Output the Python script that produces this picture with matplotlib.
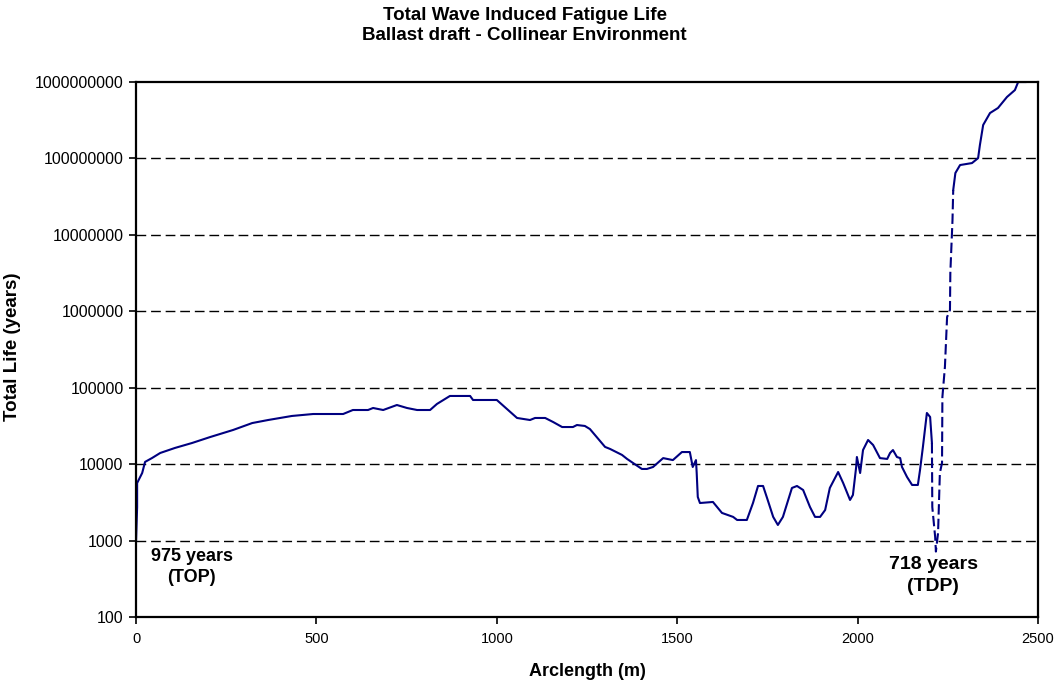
## Total wave induced fatigue life along the riser, ballast draft, collinear environment
import matplotlib.pyplot as plt
import numpy as np

plt.rcParams['font.family'] = ['Liberation Sans', 'DejaVu Sans']

## Arclength (m) and total life (years), solid part up to the touchdown zone
arc_a = [0, 3, 3, 17, 25, 44, 67, 108, 155, 205, 269, 322, 366, 432, 491, 574, 601, 643, 657,
         685, 723, 751, 779, 815, 834, 870, 926, 934, 1000, 1056, 1092, 1106, 1134, 1156, 1181,
         1211, 1222, 1244, 1258, 1300, 1314, 1347, 1361, 1402, 1416, 1433, 1461, 1488, 1513,
         1535, 1543, 1552, 1554, 1557, 1563, 1599, 1624, 1655, 1666, 1693, 1710, 1724, 1738,
         1749, 1766, 1779, 1793, 1818, 1832, 1849, 1868, 1882, 1896, 1910, 1923, 1946, 1960,
         1979, 1987, 1996, 1998, 2007, 2015, 2029, 2043, 2062, 2082, 2090, 2098, 2109, 2118,
         2123, 2137, 2151, 2167, 2173, 2181, 2192, 2201, 2206]
life_a = [975, 2750, 5660, 7660, 10700, 12000, 14000, 16300, 18900, 22600, 28000, 34500, 37800,
          42700, 45300, 45300, 51100, 51100, 54300, 51100, 59400, 54300, 51100, 51100, 61300,
          78000, 78000, 69100, 69100, 40200, 37800, 40200, 40200, 35600, 30600, 30600, 32500,
          31600, 28800, 16800, 15800, 13200, 11700, 8650, 8650, 9180, 12000, 11300, 14400,
          14400, 9180, 11300, 7660, 3720, 3100, 3200, 2300, 2040, 1860, 1860, 3100, 5180, 5180,
          3610, 2040, 1600, 2040, 4880, 5180, 4590, 2750, 2040, 2040, 2510, 4880, 7890, 5660,
          3400, 3950, 9180, 12400, 7660, 15300, 20700, 17800, 12000, 11700, 14000, 15300, 12400,
          12000, 9180, 6790, 5340, 5340, 8380, 16800, 46700, 41400, 18900]

## Steep drop to the TDP minimum and the climb out of it
arc_b = [2206, 2207, 2215, 2217, 2223, 2228, 2234, 2235, 2242, 2248, 2256, 2257, 2263, 2265]
life_b = [18900, 2750, 1110, 718, 1260, 7660, 10400, 75600, 187000, 841000, 1.04e6, 3.17e6,
          1.56e7, 3.86e7]

## Sagbend and beyond
arc_c = [2265, 2271, 2284, 2317, 2334, 2339, 2348, 2367, 2389, 2414, 2436, 2445, 2465]
life_c = [3.86e7, 6.45e7, 8.2e7, 8.7e7, 1.01e8, 1.5e8, 2.74e8, 3.93e8, 4.57e8, 6.37e8, 7.85e8,
          1e9, 1e9]

decades = [10.0**k for k in range(2, 10)]

fig = plt.figure(figsize=(10.62, 6.87), dpi=100)
ax = fig.add_axes([0.1281, 0.1019, 0.8493, 0.7787])

navy = '#000080'
ax.plot(arc_a, life_a, color=navy, lw=1.5)
ax.plot(arc_b, life_b, color=navy, lw=1.5, dashes=(5, 2))
ax.plot(arc_c, life_c, color=navy, lw=1.5)

ax.set_yscale('log')
ax.set_xlim(0, 2500)
ax.set_ylim(100, 1e9)
ax.set_xticks([0, 500, 1000, 1500, 2000, 2500])
ax.set_yticks(decades)
ax.set_yticklabels(['%d' % d for d in decades])
ax.yaxis.set_minor_locator(plt.NullLocator())
ax.tick_params(length=5, width=1.2, direction='out', pad=4)
ax.tick_params(axis='y', labelsize=11.5)
ax.tick_params(axis='x', labelsize=10.5, pad=6)

for d in decades[1:-1]:
    ax.axhline(d, color='black', lw=1, dashes=(7, 3.5), zorder=0)

for s in ax.spines.values():
    s.set_linewidth(1.6)

ax.set_xlabel('Arclength (m)', fontsize=13, fontweight='bold', labelpad=12)
ax.set_ylabel('Total Life (years)', fontsize=13.5, fontweight='bold')
ax.yaxis.set_label_coords(-0.1275, 0.505)

fig.text(0.494, 0.9709, 'Total Wave Induced Fatigue Life', ha='center', va='baseline',
         fontsize=13.5, fontweight='bold')
fig.text(0.494, 0.9418, 'Ballast draft - Collinear Environment', ha='center', va='baseline',
         fontsize=13.5, fontweight='bold')

ax.text(154, 451, '975 years\n(TOP)', ha='center', va='center', fontsize=13,
        fontweight='bold', linespacing=1.37)
ax.text(2210, 349, '718 years\n(TDP)', ha='center', va='center', fontsize=14,
        fontweight='bold', linespacing=1.33)

fig.savefig('out.png', dpi=100)
